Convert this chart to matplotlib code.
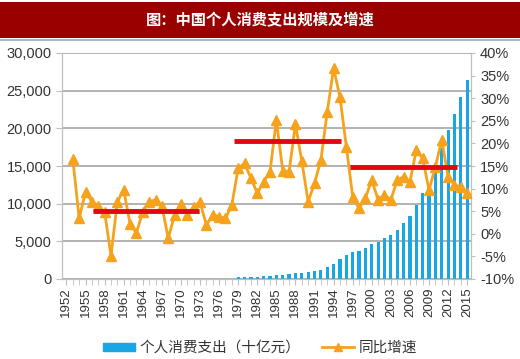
import numpy as np
import matplotlib.pyplot as plt
from matplotlib.lines import Line2D
from matplotlib.patches import Rectangle

plt.rcParams['font.family'] = ['Liberation Sans', 'Noto Sans CJK SC', 'DejaVu Sans']

years = np.arange(1952, 2016)

# personal consumption spending, billion yuan (bars shown from 1979)
spend_years = np.arange(1979, 2016)
spend = [210, 240, 270, 300, 340, 390, 480, 550, 630, 760,
         860, 900, 1000, 1200, 1550, 2050, 2650, 3250, 3550, 3750,
         4100, 4600, 4900, 5450, 5900, 6550, 7500, 8300, 9850, 11400,
         12500, 14400, 17400, 19750, 21950, 24100, 26400]

# year-on-year growth, % (from 1953)
growth_years = np.arange(1953, 2016)
growth = [16.5, 3.4, 9.3, 7.1, 6.2, 4.9, -4.9, 7.1, 9.7, 2.2,
          0.2, 4.9, 7.1, 7.5, 6.2, -1.0, 4.2, 6.7, 4.2, 6.0,
          7.1, 1.9, 4.2, 3.8, 3.4, 6.4, 14.5, 15.6, 12.3, 9.0,
          11.5, 13.7, 25.2, 14.0, 13.7, 24.3, 16.0, 7.1, 11.2, 16.3,
          27.0, 36.6, 30.3, 19.3, 8.2, 5.6, 7.9, 11.9, 7.5, 8.6,
          7.5, 11.9, 12.6, 11.5, 18.5, 16.7, 9.7, 14.8, 20.8, 12.6,
          10.8, 10.4, 9.0]

# period averages of growth (start year, end year, level %)
avg_start = [1956.1, 1978.4, 1996.5]
avg_end = [1972.9, 1995.1, 2013.4]
avg_level = [5.1, 20.6, 14.8]

title = '图：中国个人消费支出规模及增速'
bar_label = '个人消费支出（十亿元）'
line_label = '同比增速'

blue = '#1AA6E4'
orange = '#F5A21C'
red = '#E30613'
grid = '#A6A6A6'
txt = '#333333'

fig = plt.figure(figsize=(5.2, 3.59), dpi=100)

# title band
fig.patches.append(Rectangle((0, 1 - 38 / 359), 1, 36 / 359, transform=fig.transFigure,
                             facecolor='#990000', edgecolor='none', zorder=0))
fig.add_artist(Line2D([0, 1], [1 - 40 / 359] * 2, transform=fig.transFigure,
                      color='#9AA8BC', lw=1.2))
fig.text(0.5, 1 - 20 / 359, title, color='white', fontsize=11, fontweight='bold',
         ha='center', va='center', family=['Noto Sans CJK SC', 'DejaVu Sans'])

ax = fig.add_axes([62 / 520, 80 / 359, 409 / 520, 226 / 359])
ax.bar(spend_years, spend, width=0.5, color=blue, zorder=2)
ax.set_ylim(0, 30000)
ax.set_yticks(np.arange(0, 30001, 5000))
ax.set_yticklabels([f'{v:,}' for v in range(0, 30001, 5000)])
ax.set_xlim(1951.3, 2015.6)
ax.set_xticks(years, minor=True)
ax.set_xticks(years[::3])
ax.set_xticklabels([str(y) for y in years[::3]], rotation=90)
ax.yaxis.grid(True, color=grid, lw=1.2, zorder=0)
ax.set_axisbelow(True)
ax.spines['top'].set_visible(False)
for s in ['left', 'right', 'bottom']:
    ax.spines[s].set_color('#BFBFBF')
ax.tick_params(axis='y', colors=txt, labelsize=10.5, length=4, color='#BFBFBF')
ax.tick_params(axis='x', which='both', colors=txt, labelsize=9.5, length=4, color='#BFBFBF')
ax.tick_params(axis='x', which='major', pad=2)

ax2 = ax.twinx()
ax2.plot(growth_years, growth, color=orange, lw=2, marker='^', ms=7.5, zorder=3)
ax2.hlines(avg_level, avg_start, avg_end, color=red, lw=3.5, zorder=4)
ax2.set_ylim(-10, 40)
ax2.set_yticks(np.arange(-10, 41, 5))
ax2.set_yticklabels([f'{v}%' for v in range(-10, 41, 5)])
ax2.tick_params(axis='y', colors=txt, labelsize=10.5, length=3, color='#BFBFBF')
ax2.spines['top'].set_visible(False)
for s in ['left', 'right', 'bottom']:
    ax2.spines[s].set_color('#BFBFBF')

handles = [Rectangle((0, 0), 1, 1, color=blue),
           Line2D([], [], color=orange, lw=2, marker='^', ms=6)]
fig.legend(handles, [bar_label, line_label], loc='center', bbox_to_anchor=(0.5, 1 - 348 / 359),
           ncol=2, frameon=False, fontsize=10.5, handlelength=2.2, handleheight=0.5,
           columnspacing=1.5, handletextpad=0.3, labelcolor=txt)

fig.savefig('out.png', dpi=100)
